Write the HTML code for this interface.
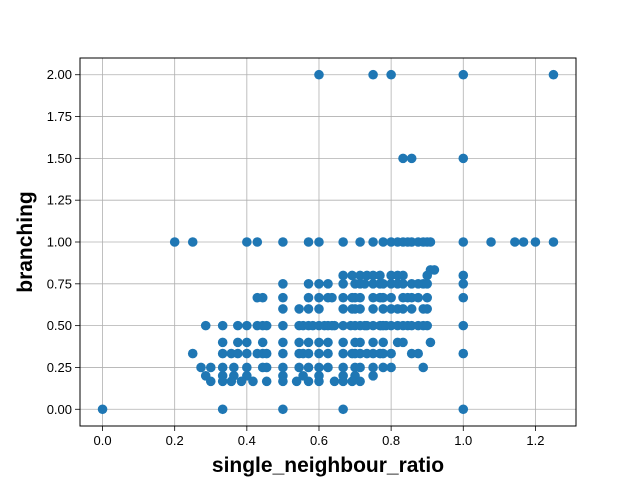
<!DOCTYPE html>
<html><head><meta charset="utf-8"><style>body{margin:0;background:#fff}svg{display:block;font-family:"Liberation Sans","DejaVu Sans",sans-serif}</style></head>
<body>
<svg id="chart" width="640" height="480">
<rect x="0" y="0" width="640" height="480" fill="#fff"/>
<g id="grid"></g>
<g id="points"></g>
<rect x="80" y="58" width="496" height="368" fill="none" stroke="#000" stroke-width="1"/>
<g id="ticks"></g>
<text x="328" y="472" text-anchor="middle" font-size="21" font-weight="bold">single_neighbour_ratio</text>
<text x="0" y="0" transform="translate(32,242) rotate(-90)" text-anchor="middle" font-size="21" font-weight="bold">branching</text>
</svg>
<script>
const xTicks = [0, 0.2, 0.4, 0.6, 0.8, 1.0, 1.2];
const xTickLabels = ["0.0","0.2","0.4","0.6","0.8","1.0","1.2"];
const yTicks = [0, 0.25, 0.5, 0.75, 1.0, 1.25, 1.5, 1.75, 2.0];
const yTickLabels = ["0.00","0.25","0.50","0.75","1.00","1.25","1.50","1.75","2.00"];
const yLevels = [2, 1.5, 1, 0.833, 0.8, 0.75, 0.667, 0.6, 0.5, 0.4, 0.333, 0.25, 0.2, 0.167, 0];
const xByLevel = [
 [0.6,0.75,0.8,1.0,1.25],
 [0.833,0.857,1.0],
 [0.2,0.25,0.4,0.429,0.5,0.571,0.6,0.667,0.714,0.75,0.778,0.8,0.818,0.833,0.846,0.857,0.875,0.889,0.9,0.909,1.0,1.077,1.143,1.167,1.2,1.25],
 [0.909,0.92],
 [0.667,0.692,0.714,0.733,0.75,0.769,0.8,0.818,0.833,0.9,1.0],
 [0.5,0.571,0.6,0.625,0.667,0.7,0.714,0.727,0.75,0.769,0.778,0.8,0.818,0.833,0.857,0.875,0.889,0.9,1.0],
 [0.429,0.444,0.5,0.571,0.6,0.625,0.636,0.667,0.692,0.7,0.714,0.75,0.769,0.778,0.8,0.833,0.846,0.857,0.875,0.9,1.0],
 [0.5,0.545,0.571,0.6,0.667,0.692,0.7,0.714,0.75,0.778,0.8,0.818,0.833,0.857,0.889,0.9],
 [0.286,0.333,0.375,0.4,0.429,0.444,0.455,0.5,0.545,0.556,0.571,0.583,0.6,0.615,0.625,0.636,0.643,0.667,0.688,0.7,0.714,0.727,0.733,0.75,0.769,0.778,0.786,0.8,0.818,0.833,0.846,0.857,0.875,0.889,0.9,1.0],
 [0.333,0.375,0.4,0.444,0.5,0.545,0.571,0.6,0.625,0.667,0.7,0.714,0.75,0.778,0.818,0.833,0.909],
 [0.25,0.333,0.357,0.375,0.4,0.429,0.444,0.455,0.5,0.545,0.556,0.571,0.6,0.625,0.667,0.692,0.7,0.714,0.733,0.75,0.769,0.778,0.8,0.857,0.875,1.0],
 [0.273,0.3,0.333,0.364,0.4,0.444,0.455,0.5,0.545,0.571,0.6,0.625,0.667,0.7,0.714,0.75,0.778,0.8,0.889],
 [0.286,0.333,0.364,0.4,0.5,0.556,0.6,0.667,0.7,0.75],
 [0.3,0.333,0.357,0.385,0.417,0.455,0.5,0.538,0.571,0.6,0.643,0.667,0.692,0.714],
 [0,0.333,0.5,0.667,1.0]
];
const NS="http://www.w3.org/2000/svg";
const X0=80,X1=576,Y0=58,Y1=426,xmin=-0.0625,xmax=1.3125,ymin=-0.1,ymax=2.1;
function sx(v){return X0+(v-xmin)/(xmax-xmin)*(X1-X0);}
function sy(v){return Y1-(v-ymin)/(ymax-ymin)*(Y1-Y0);}
function mk(t,a){const e=document.createElementNS(NS,t);for(const k in a)e.setAttribute(k,a[k]);return e;}
const grid=document.getElementById('grid'),ticks=document.getElementById('ticks'),pts=document.getElementById('points');
xTicks.forEach((v,i)=>{
 const x=sx(v);
 const g=mk('line',{x1:x,x2:x,y1:Y0,y2:Y1,stroke:'#b0b0b0','stroke-width':0.8});
 
 
 grid.appendChild(g);
 const t=mk('line',{x1:x,x2:x,y1:Y1,y2:Y1+5,stroke:'#000','stroke-width':0.8});
 
 
 ticks.appendChild(t);
 const l=mk('text',{x:x,y:Y1+19,'text-anchor':'middle','font-size':13});
 l.textContent=xTickLabels[i];
 
 
 ticks.appendChild(l);
});
yTicks.forEach((v,i)=>{
 const y=sy(v);
 const g=mk('line',{x1:X0,x2:X1,y1:y,y2:y,stroke:'#b0b0b0','stroke-width':0.8});
 
 
 grid.appendChild(g);
 const t=mk('line',{x1:X0-5,x2:X0,y1:y,y2:y,stroke:'#000','stroke-width':0.8});
 
 
 ticks.appendChild(t);
 const l=mk('text',{x:X0-8,y:y+4.5,'text-anchor':'end','font-size':13});
 l.textContent=yTickLabels[i];
 
 
 ticks.appendChild(l);
});
yLevels.forEach((yv,i)=>{
 xByLevel[i].forEach(xv=>{
  const c=mk('circle',{cx:sx(xv),cy:sy(yv),r:4.8,fill:'#1f77b4'});
  
  
  pts.appendChild(c);
 });
});
</script>
</body></html>
